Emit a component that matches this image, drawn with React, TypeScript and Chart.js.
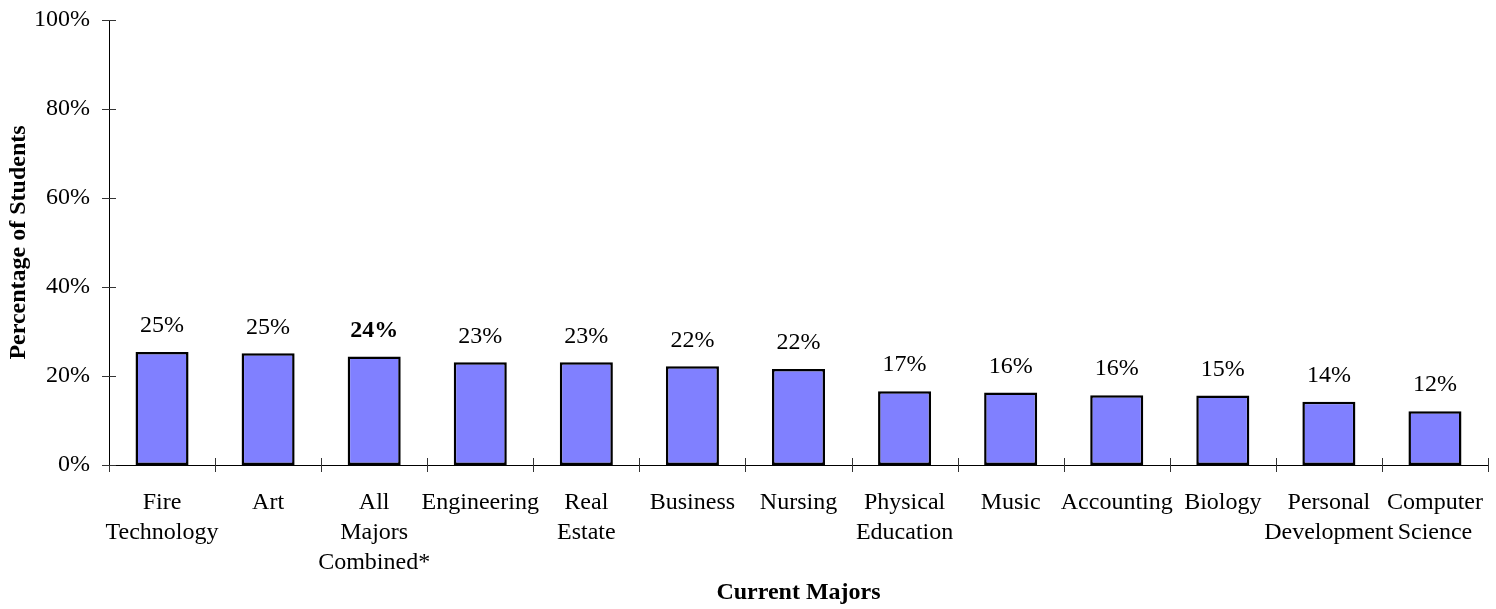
import React, { useEffect, useRef } from "react";
import { Chart, registerables } from "chart.js";

Chart.register(...registerables);

const categories: (string | string[])[] = [
  ["Fire", "Technology"],
  "Art",
  ["All", "Majors", "Combined*"],
  "Engineering",
  ["Real", "Estate"],
  "Business",
  "Nursing",
  ["Physical", "Education"],
  "Music",
  "Accounting",
  "Biology",
  ["Personal", "Development"],
  ["Computer", "Science"],
];

const percentages: number[] = [25.4, 25.1, 24.4, 23.1, 23.1, 22.2, 21.6, 16.6, 16.3, 15.7, 15.6, 14.2, 12.1];

const valueLabels: string[] = ["25%", "25%", "24%", "23%", "23%", "22%", "22%", "17%", "16%", "16%", "15%", "14%", "12%"];

const boldLabelIndex = 2;

const yTicks: number[] = [0, 20, 40, 60, 80, 100];

const FONT = "'Liberation Serif', 'Times New Roman', serif";
const FS = 24;

const tickPlugin = {
  id: "crossTicks",
  afterDraw(chart: any) {
    const { ctx, chartArea, scales } = chart;
    const x = scales.x;
    const y = scales.y;
    ctx.save();
    ctx.strokeStyle = "#333";
    ctx.lineWidth = 1;
    ctx.beginPath();
    for (const v of yTicks) {
      const py = Math.round(y.getPixelForValue(v)) + 0.5;
      ctx.moveTo(chartArea.left - 7, py);
      ctx.lineTo(chartArea.left + 7, py);
    }
    const n = categories.length;
    for (let i = 0; i <= n; i++) {
      const px = Math.round(x.getPixelForValue(i - 0.5)) + 0.5;
      ctx.moveTo(px, chartArea.bottom - (i === 0 ? 0 : 7));
      ctx.lineTo(px, chartArea.bottom + 7);
    }
    ctx.stroke();
    ctx.restore();
  },
};

const labelPlugin = {
  id: "valueLabels",
  afterDatasetsDraw(chart: any) {
    const { ctx } = chart;
    const meta = chart.getDatasetMeta(0);
    ctx.save();
    ctx.fillStyle = "#000";
    ctx.textAlign = "center";
    ctx.textBaseline = "middle";
    meta.data.forEach((bar: any, i: number) => {
      ctx.font = `${i === boldLabelIndex ? "bold " : ""}${FS}px ${FONT}`;
      ctx.fillText(valueLabels[i], bar.x, bar.y - 26);
    });
    ctx.restore();
  },
};

export default function App() {
  const ref = useRef<HTMLCanvasElement | null>(null);

  useEffect(() => {
    document.body.style.margin = "0";
    const canvas = ref.current;
    if (!canvas) return;
    const chart = new Chart(canvas, {
      type: "bar",
      data: {
        labels: categories,
        datasets: [
          {
            data: percentages,
            backgroundColor: "#8080FF",
            borderColor: "#000",
            borderWidth: 2.5,
            borderSkipped: false,
            categoryPercentage: 1,
            barPercentage: 0.5,
          },
        ],
      },
      options: {
        animation: false,
        responsive: false,
        maintainAspectRatio: false,
        layout: { padding: { top: 20, right: 8, left: 0, bottom: 0 } },
        plugins: {
          legend: { display: false },
          tooltip: { enabled: false },
        },
        scales: {
          x: {
            grid: { display: false, drawTicks: false },
            border: { display: true, color: "#000", width: 1 },
            ticks: {
              color: "#000",
              font: { family: FONT, size: FS, lineHeight: 1.27 },
              padding: 22,
              autoSkip: false,
              maxRotation: 0,
              minRotation: 0,
            },
            title: {
              display: true,
              text: "Current Majors",
              color: "#000",
              font: { family: FONT, size: FS, weight: "bold" },
              padding: { top: 2, bottom: 2 },
            },
            afterFit: (s: any) => {
              s.height = 144;
              s.paddingLeft = 0;
              s.paddingRight = 0;
            },
          },
          y: {
            min: 0,
            max: 100,
            grid: { display: false, drawTicks: false },
            border: { display: true, color: "#000", width: 1 },
            ticks: {
              stepSize: 20,
              color: "#000",
              font: { family: FONT, size: FS },
              padding: 19,
              callback: (v: any) => `${v}%`,
            },
            title: {
              display: true,
              text: "Percentage of Students",
              color: "#000",
              font: { family: FONT, size: FS, weight: "bold" },
              padding: { top: 4, bottom: 4 },
            },
            afterFit: (s: any) => {
              s.width = 109;
              s.paddingTop = 0;
              s.paddingBottom = 0;
            },
          },
        },
      },
      plugins: [tickPlugin, labelPlugin],
    });
    return () => chart.destroy();
  }, []);

  return <canvas ref={ref} width={1496} height={609} style={{ display: "block" }} />;
}
